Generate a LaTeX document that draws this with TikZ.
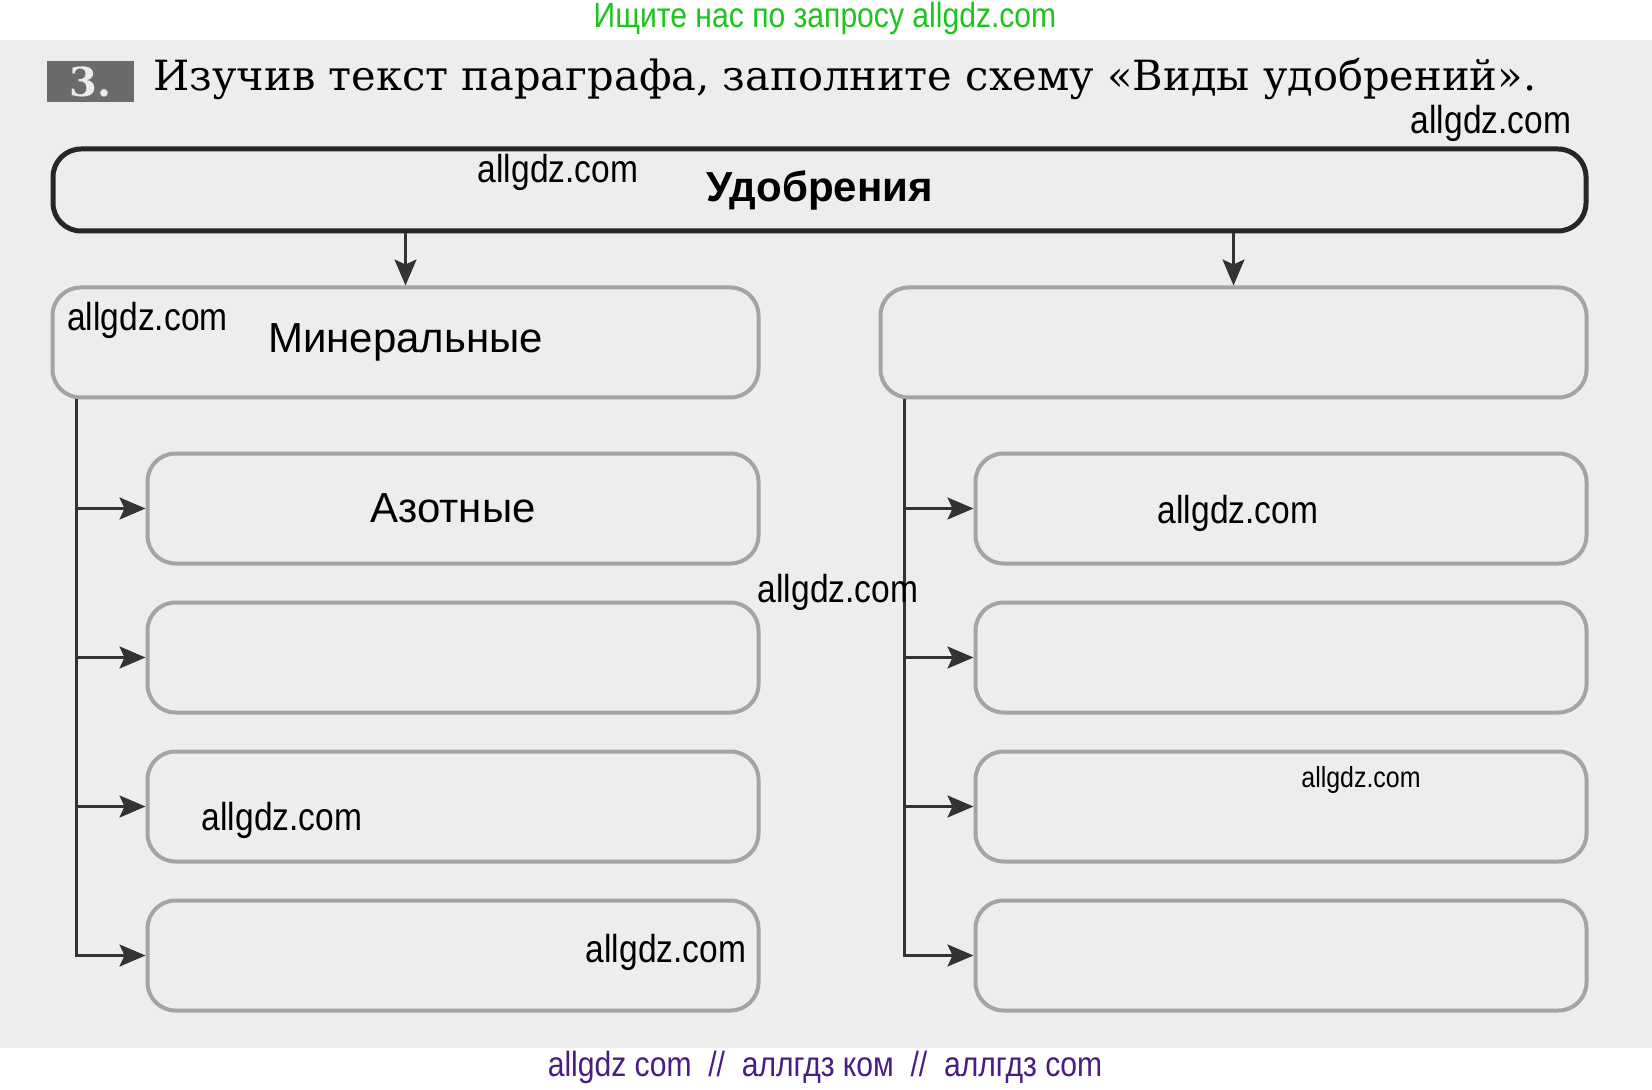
\documentclass[tikz,border=0pt]{standalone}
\usepackage{fontspec}
\setmainfont{DejaVu Serif}
\setsansfont{Liberation Sans}
\newfontfamily\wmfont[FakeStretch=0.86]{Liberation Sans}
\usetikzlibrary{arrows.meta}
\usetikzlibrary{positioning}

\definecolor{pagegray}{HTML}{EDEDED}
\definecolor{boxline}{HTML}{A4A4A4}
\definecolor{wmgreen}{HTML}{1EC41E}
\definecolor{wmpurple}{HTML}{4A1C86}
\definecolor{numgray}{HTML}{6B6B6B}

\begin{document}
\begin{tikzpicture}[x=0.5pt,y=-0.5pt,
    kind/.style={draw=boxline, line width=2pt, rounded corners=14pt, fill=pagegray,
      minimum height=55pt, inner sep=0pt, font=\sffamily\fontsize{21}{24}\selectfont},
    sub/.style={kind, minimum width=305.5pt},
    conn/.style={draw=black!80, line width=1.3pt, -{Stealth[length=13pt, width=11pt, inset=2.5pt]}},
    wm/.style={font=\wmfont\fontsize{19.5}{22}\selectfont, text=black, inner sep=0pt}]
  \useasboundingbox (0,0) rectangle (1652,1090);
  \fill[white] (0,0) rectangle (1652,1090);
  \fill[pagegray] (0,40) rectangle (1652,1048);

  \node[fill=numgray, text=white!92!black, minimum width=43.5pt, minimum height=20.5pt, inner sep=0pt,
    font=\bfseries\fontsize{20}{22}\selectfont] (num) at (90.5,81.5) {3.};
  \node[anchor=west, inner sep=0pt, font=\fontsize{20.8}{24}\selectfont] (title) at (153,79)
    {Изучив текст параграфа, заполните схему «Виды удобрений».};

  \node[draw=black!85, line width=2.5pt, rounded corners=14pt, fill=pagegray, minimum width=766.5pt,
    minimum height=41pt, inner sep=0pt, font=\sffamily\bfseries\fontsize{21}{24}\selectfont]
    (fert) at (819.5,190) {Удобрения};

  \node[kind, minimum width=353pt, below right=26pt and 0pt of fert.south west] (mineral) {Минеральные};
  \node[kind, minimum width=353pt, below left=26pt and 0pt of fert.south east] (other) {};

  \node[sub, below left=26pt and 0pt of mineral.south east] (l1) {Азотные};
  \node[sub, below=17.5pt of l1] (l2) {};
  \node[sub, below=17.5pt of l2] (l3) {};
  \node[sub, below=17.5pt of l3] (l4) {};

  \node[sub, below left=26pt and 0pt of other.south east] (r1) {};
  \node[sub, below=17.5pt of r1] (r2) {};
  \node[sub, below=17.5pt of r2] (r3) {};
  \node[sub, below=17.5pt of r3] (r4) {};

  \coordinate[right=13pt of mineral.south west] (lspine);
  \coordinate[right=13pt of other.south west] (rspine);

  \draw[conn] (mineral.north |- fert.south) -- (mineral.north);
  \draw[conn] (other.north |- fert.south) -- (other.north);

  \draw[conn] (lspine) |- (l4.west);
  \draw[conn] (lspine |- l1.west) -- (l1.west);
  \draw[conn] (lspine |- l2.west) -- (l2.west);
  \draw[conn] (lspine |- l3.west) -- (l3.west);

  \draw[conn] (rspine) |- (r4.west);
  \draw[conn] (rspine |- r1.west) -- (r1.west);
  \draw[conn] (rspine |- r2.west) -- (r2.west);
  \draw[conn] (rspine |- r3.west) -- (r3.west);

  \node[wm, text=wmgreen, font=\wmfont\fontsize{17.5}{20}\selectfont] (top) at (825,18) {Ищите нас по запросу allgdz.com};
  \node[wm, text=wmpurple, font=\wmfont\fontsize{17.5}{20}\selectfont] (bottom) at (825,1067)
    {allgdz com \ // \ аллгдз ком \ // \ аллгдз com};

  \node[wm] (wm1) at (558,172) {allgdz.com};
  \node[wm] (wm2) at (1491,123) {allgdz.com};
  \node[wm] (wm3) at (147.5,320) {allgdz.com};
  \node[wm] (wm4) at (1238,513) {allgdz.com};
  \node[wm] (wm5) at (838,592) {allgdz.com};
  \node[wm] (wm6) at (282,820) {allgdz.com};
  \node[wm] (wm7) at (666,952) {allgdz.com};
  \node[wm, font=\wmfont\fontsize{14.5}{17}\selectfont] (wm8) at (1361,780) {allgdz.com};
\end{tikzpicture}
\end{document}
